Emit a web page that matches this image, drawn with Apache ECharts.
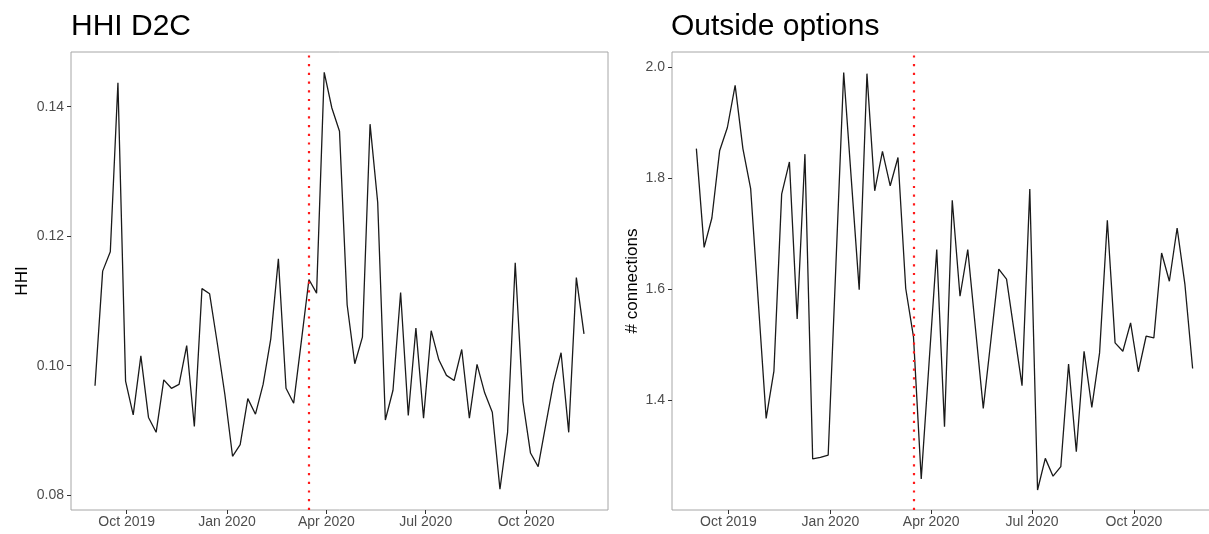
<!DOCTYPE html>
<html>
<head>
<meta charset="utf-8">
<title>HHI D2C / Outside options</title>
<script src="https://cdn.jsdelivr.net/npm/echarts@6/dist/echarts.min.js"></script>
<style>
    html, body { margin: 0; padding: 0; background: #fff; }
    #chart { width: 1209px; height: 534px; }
</style>
</head>
<body>
<div id="chart"></div>
<script>
// weekly observations
const weeks = [
    '2019-09-02', '2019-09-09', '2019-09-16', '2019-09-23', '2019-09-30', '2019-10-07', '2019-10-14', '2019-10-21',
    '2019-10-28', '2019-11-04', '2019-11-11', '2019-11-18', '2019-11-25', '2019-12-02', '2019-12-09', '2019-12-16',
    '2019-12-23', '2019-12-30', '2020-01-06', '2020-01-13', '2020-01-20', '2020-01-27', '2020-02-03', '2020-02-10',
    '2020-02-17', '2020-02-24', '2020-03-02', '2020-03-09', '2020-03-16', '2020-03-23', '2020-03-30', '2020-04-06',
    '2020-04-13', '2020-04-20', '2020-04-27', '2020-05-04', '2020-05-11', '2020-05-18', '2020-05-25', '2020-06-01',
    '2020-06-08', '2020-06-15', '2020-06-22', '2020-06-29', '2020-07-06', '2020-07-13', '2020-07-20', '2020-07-27',
    '2020-08-03', '2020-08-10', '2020-08-17', '2020-08-24', '2020-08-31', '2020-09-07', '2020-09-14', '2020-09-21',
    '2020-09-28', '2020-10-05', '2020-10-12', '2020-10-19', '2020-10-26', '2020-11-02', '2020-11-09', '2020-11-16',
    '2020-11-23'
];

// HHI D2C
const hhi = [
    0.0969, 0.1146, 0.1176, 0.1437, 0.0976, 0.0924, 0.1015, 0.0920,
    0.0897, 0.0978, 0.0965, 0.0971, 0.1031, 0.0906, 0.1119, 0.1111,
    0.1035, 0.0955, 0.0860, 0.0878, 0.0949, 0.0925, 0.0971, 0.1041,
    0.1165, 0.0965, 0.0942, 0.1037, 0.1133, 0.1112, 0.1453, 0.1398,
    0.1362, 0.1094, 0.1003, 0.1044, 0.1373, 0.1252, 0.0916, 0.0962,
    0.1113, 0.0923, 0.1058, 0.0919, 0.1054, 0.1009, 0.0985, 0.0977,
    0.1025, 0.0919, 0.1002, 0.0958, 0.0928, 0.0809, 0.0897, 0.1159,
    0.0945, 0.0865, 0.0844, 0.0909, 0.0973, 0.1020, 0.0897, 0.1136,
    0.1049
];

// Outside options (# connections)
const connections = [
    1.854, 1.676, 1.729, 1.850, 1.892, 1.968, 1.854, 1.782,
    1.575, 1.368, 1.453, 1.772, 1.830, 1.547, 1.844, 1.295,
    1.298, 1.302, 1.646, 1.991, 1.795, 1.600, 1.989, 1.778,
    1.849, 1.787, 1.838, 1.602, 1.515, 1.259, 1.466, 1.672,
    1.353, 1.761, 1.588, 1.672, 1.529, 1.386, 1.511, 1.637,
    1.619, 1.523, 1.427, 1.781, 1.239, 1.296, 1.264, 1.281,
    1.466, 1.308, 1.489, 1.388, 1.486, 1.725, 1.504, 1.489,
    1.540, 1.452, 1.516, 1.513, 1.666, 1.615, 1.711, 1.610,
    1.458
];

// axis ticks
const quarterTicks = ['2019-10-01', '2020-01-01', '2020-04-01', '2020-07-01', '2020-10-01'];
const quarterLabels = ['Oct 2019', 'Jan 2020', 'Apr 2020', 'Jul 2020', 'Oct 2020'];
const hhiTicks = [0.08, 0.10, 0.12, 0.14];
const connTicks = [1.4, 1.6, 1.8, 2.0];
const eventDate = '2020-03-16';

const FONT = '"Liberation Sans", Arial, sans-serif';
const t = s => Date.parse(s + 'T00:00:00Z');
const tickTimes = quarterTicks.map(t);

// x axis (dates as timestamps)
function makeXAxis(gridIndex) {
    return {
        type: 'value',
        gridIndex: gridIndex,
        min: t('2019-08-11'),
        max: t('2020-12-15'),
        axisLine: { show: false },
        splitLine: { show: false },
        axisTick: { show: true, customValues: tickTimes, length: 4, lineStyle: { color: '#333' } },
        axisLabel: {
            customValues: tickTimes,
            formatter: v => {
                const i = tickTimes.indexOf(v);
                return i >= 0 ? quarterLabels[i] : '';
            },
            color: '#4d4d4d', fontSize: 14, fontFamily: FONT, margin: 5
        }
    };
}

// y axis (value)
function makeYAxis(gridIndex, name, min, max, ticks, digits, nameGap) {
    return {
        type: 'value',
        gridIndex: gridIndex,
        min: min,
        max: max,
        name: name,
        nameLocation: 'middle',
        nameGap: nameGap,
        nameTextStyle: { fontSize: 17, color: '#000', fontFamily: FONT },
        axisLine: { show: false },
        splitLine: { show: false },
        axisTick: { show: true, customValues: ticks, length: 4, lineStyle: { color: '#333' } },
        axisLabel: {
            customValues: ticks,
            formatter: v => v.toFixed(digits),
            color: '#4d4d4d', fontSize: 14, fontFamily: FONT, margin: 7
        }
    };
}

// line series with the red dotted event line
function makeSeries(index, values) {
    return {
        type: 'line',
        xAxisIndex: index,
        yAxisIndex: index,
        data: weeks.map((w, i) => [t(w), values[i]]),
        showSymbol: false,
        lineStyle: { color: '#1a1a1a', width: 1.3 },
        markLine: {
            silent: true,
            symbol: ['none', 'none'],
            label: { show: false },
            lineStyle: { color: '#ff1a1a', type: [2.2, 6.5], width: 2.2 },
            data: [{ xAxis: t(eventDate) }]
        }
    };
}

const grid = (left, width) => ({
    left: left, top: 52, width: width, height: 458,
    outerBoundsMode: 'none',
    show: true, borderColor: '#a6a6a6', borderWidth: 1, backgroundColor: 'transparent'
});

const titleStyle = { fontSize: 30, fontWeight: 'normal', color: '#000', fontFamily: FONT };

const chart = echarts.init(document.getElementById('chart'));
chart.setOption({
    animation: false,
    backgroundColor: '#fff',
    title: [
        { text: 'HHI D2C', left: 71, top: 12, padding: 0, textStyle: titleStyle },
        { text: 'Outside options', left: 671, top: 12, padding: 0, textStyle: titleStyle }
    ],
    grid: [grid(71, 537), grid(672, 545)],
    xAxis: [makeXAxis(0), makeXAxis(1)],
    yAxis: [
        makeYAxis(0, 'HHI', 0.0777, 0.14845, hhiTicks, 2, 40),
        makeYAxis(1, '# connections', 1.203, 2.028, connTicks, 1, 31)
    ],
    series: [makeSeries(0, hhi), makeSeries(1, connections)]
});
</script>
</body>
</html>
